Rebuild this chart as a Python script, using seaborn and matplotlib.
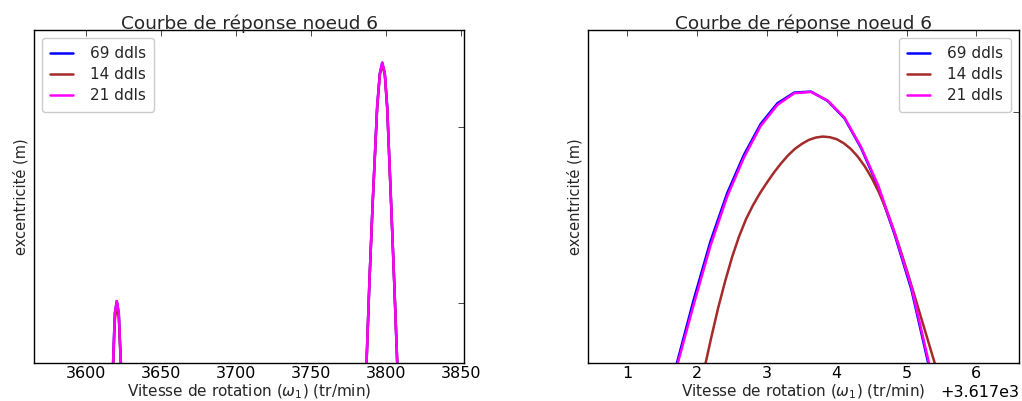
import pandas as pd
import matplotlib
matplotlib.use("Agg")
import matplotlib.pyplot as plt
import seaborn as sns

# -----------------------------
# data (excentricity, normalised to each panel's y range)
# -----------------------------
series = ["69 ddls", "14 ddls", "21 ddls"]
colors = ["#0000ff", "#a52a2a", "#ff00ff"]

# left panel: whole sweep
left_x = [3565, 3610, 3616, 3617.8, 3619, 3620.3, 3621.6, 3623.0, 3626, 3700,
          3785, 3787.1, 3789, 3791.1, 3794.2, 3796, 3797.6, 3799.3, 3800.9,
          3803.6, 3805.7, 3807.6, 3810, 3852]
left_69 = [-0.6, -0.5, -0.22, 0.0, 0.15, 0.186, 0.15, 0.0, -0.3, -0.6,
           -0.35, 0.0, 0.24, 0.47, 0.77, 0.87, 0.902, 0.87, 0.77,
           0.47, 0.23, 0.0, -0.3, -0.6]
left_14 = [-0.6, -0.5, -0.24, -0.02, 0.13, 0.172, 0.14, -0.01, -0.3, -0.6,
           -0.35, 0.0, 0.24, 0.47, 0.765, 0.865, 0.895, 0.865, 0.765,
           0.47, 0.23, 0.0, -0.3, -0.6]
left_21 = [-0.6, -0.5, -0.22, 0.0, 0.15, 0.186, 0.15, 0.0, -0.3, -0.6,
           -0.35, 0.0, 0.24, 0.47, 0.77, 0.87, 0.902, 0.87, 0.77,
           0.47, 0.23, 0.0, -0.3, -0.6]

# right panel: zoom on the first resonance
right_x = [3618.47, 3618.71, 3618.95, 3619.19, 3619.43, 3619.67, 3619.91,
           3620.15, 3620.39, 3620.63, 3620.87, 3621.11, 3621.35, 3621.59,
           3621.83, 3622.07, 3622.31, 3622.55]
right_69 = [-0.2, 0.0, 0.19, 0.365, 0.51, 0.625, 0.718, 0.78, 0.812, 0.815,
            0.787, 0.735, 0.645, 0.53, 0.385, 0.22, 0.0, -0.25]
right_21 = [-0.22, -0.01, 0.175, 0.352, 0.50, 0.617, 0.712, 0.775, 0.81,
            0.814, 0.788, 0.737, 0.648, 0.535, 0.39, 0.228, 0.01, -0.24]
right_x14 = [3619.0, 3619.1, 3619.2, 3619.3, 3619.4, 3619.5, 3619.6, 3619.7,
             3619.8, 3619.9, 3620.0, 3620.1, 3620.2, 3620.3, 3620.4, 3620.5,
             3620.6, 3620.7, 3620.8, 3620.9, 3621.0, 3621.1, 3621.2, 3621.3,
             3621.4, 3621.5, 3621.6, 3621.7, 3621.8, 3621.9, 3622.0, 3622.1,
             3622.2, 3622.3, 3622.4, 3622.5, 3622.6]
right_14 = [-0.12, -0.02, 0.075, 0.165, 0.245, 0.318, 0.38, 0.432, 0.474,
            0.51, 0.542, 0.572, 0.599, 0.623, 0.643, 0.658, 0.67, 0.677,
            0.68, 0.678, 0.672, 0.66, 0.643, 0.62, 0.591, 0.556, 0.514,
            0.465, 0.409, 0.347, 0.281, 0.212, 0.142, 0.072, 0.002, -0.068,
            -0.138]


def long_df(pairs):
    frames = []
    for name, xs, ys in pairs:
        frames.append(pd.DataFrame({"x": xs, "y": ys, "serie": name}))
    return pd.concat(frames, ignore_index=True)


df_left = long_df([(series[0], left_x, left_69),
                   (series[1], left_x, left_14),
                   (series[2], left_x, left_21)])
df_right = long_df([(series[0], right_x, right_69),
                    (series[1], right_x14, right_14),
                    (series[2], right_x, right_21)])

# -----------------------------
# style (old matplotlib look)
# -----------------------------
sns.set_style("white")
plt.rcParams.update({
    "font.family": ["DejaVu Sans"],
    "xtick.direction": "in",
    "ytick.direction": "in",
    "xtick.top": True,
    "ytick.right": True,
    "xtick.major.size": 4,
    "ytick.major.size": 4,
    "xtick.major.width": 0.5,
    "ytick.major.width": 0.5,
    "xtick.color": "black",
    "ytick.color": "black",
    "axes.edgecolor": "black",
    "axes.linewidth": 1.0,
})

palette = dict(zip(series, colors))

fig = plt.figure(figsize=(10.22, 4.01), dpi=100)
ax1 = fig.add_axes([0.0333, 0.0948, 0.4207, 0.8304])
ax2 = fig.add_axes([0.5753, 0.0948, 0.4217, 0.8304])

panels = [
    (ax1, df_left, (3565, 3852.2), [0.18, 0.709], "upper left"),
    (ax2, df_right, (3617.435, 3623.61), [0.754], "upper right"),
]

for ax, data, xlim, yticks, loc in panels:
    sns.lineplot(data=data, x="x", y="y", hue="serie", hue_order=series,
                 palette=palette, estimator=None, sort=True,
                 linewidth=1.8, ax=ax)
    ax.set_xlim(*xlim)
    ax.set_ylim(0, 1)
    ax.set_yticks(yticks)
    ax.set_yticklabels([])
    ax.tick_params(axis="x", labelsize=11.5, pad=2)
    ax.set_title("Courbe de réponse noeud 6", fontsize=13.3, pad=0.5)
    ax.set_xlabel(r"Vitesse de rotation ($\omega_1$) (tr/min)", fontsize=11,
                  labelpad=1)
    ax.set_ylabel("excentricité (m)", fontsize=10.5, labelpad=0.5)
    ax.legend(loc=loc, fontsize=11, handlelength=1.5, handletextpad=1.1,
              labelspacing=0.4, borderpad=0.55, borderaxespad=0.5,
              framealpha=1, edgecolor="#cccccc")

ax2.xaxis.get_major_formatter().set_useOffset(3617)
ax2.xaxis.get_offset_text().set_fontsize(11.5)

fig.savefig("out.png", dpi=100, facecolor="white")
